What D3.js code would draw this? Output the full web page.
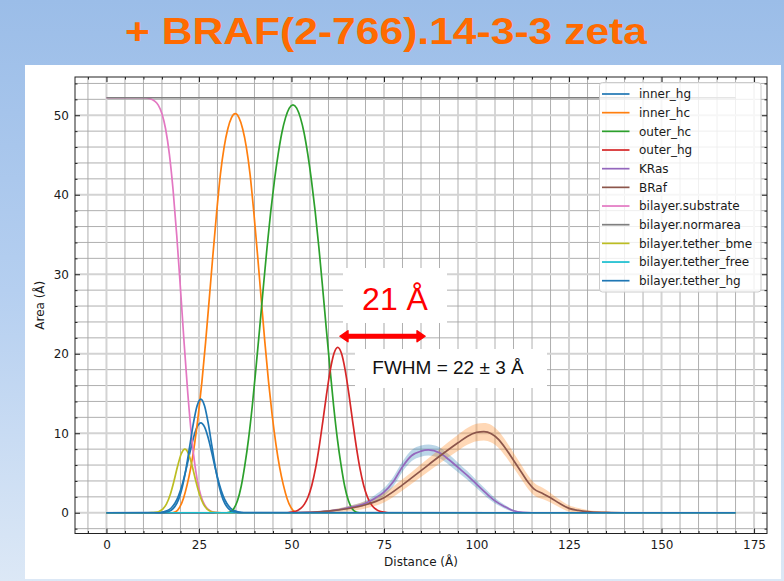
<!DOCTYPE html>
<html>
<head>
<meta charset="utf-8">
<script src="https://cdn.jsdelivr.net/npm/d3@7"></script>
<style>
  html, body { margin: 0; padding: 0; }
  body { width: 784px; height: 581px; overflow: hidden; }
  .axis text, .etiqueta, .leyenda text { font-family: "DejaVu Sans", sans-serif; fill: #1a1a1a; }
</style>
</head>
<body>
<div id="graf"></div>
<script>
// Datos (Distancia en Å, Área)
const innerHg = [[0,0],[14,0.02],[14.5,0.04],[15.5,0.11],[16.5,0.27],[17.5,0.6],[18.5,1.19],[19.5,2.16],[20.5,3.59],[21.5,5.42],[22.5,7.47],[23.5,9.4],[24.5,10.79],[25.5,11.3],[26.5,10.79],[27.5,9.4],[28.5,7.47],[29.5,5.42],[30.5,3.59],[31.5,2.16],[32.5,1.19],[33.5,0.6],[34.5,0.27],[35.5,0.11],[36.5,0.04],[37.5,0.01],[170,0]]
const innerHc = [[0,0],[17.8,0],[18.8,0.15],[19.8,0.7],[20.8,1.8],[21.8,3.5],[22.8,5.7],[23.8,8.6],[24.8,12.2],[25.8,16.5],[26.8,21.5],[27.8,27],[28.8,32.6],[29.8,37.9],[30.8,42.6],[31.8,46],[32.8,48.3],[33.8,49.7],[34.8,50.2],[35.8,49.7],[36.8,48.3],[37.8,46],[38.8,42.6],[39.8,37.9],[40.8,32.6],[41.8,27],[42.8,21.5],[43.8,16.5],[44.8,12.2],[45.8,8.6],[46.8,5.7],[47.8,3.5],[48.8,1.8],[49.8,0.7],[50.8,0.15],[51.8,0],[170,0]]
const outerHc = [[0,0],[32.4,0],[33.4,0.1],[34.4,0.5],[35.4,1.5],[36.4,3.3],[37.4,6],[38.4,9.3],[39.4,13.4],[40.4,18.2],[41.4,23.2],[42.4,28.4],[43.4,33.4],[44.4,37.9],[45.4,41.8],[46.4,45.1],[47.4,47.8],[48.4,49.7],[49.4,50.9],[50.4,51.3],[51.4,50.9],[52.4,49.7],[53.4,47.8],[54.4,45.1],[55.4,41.8],[56.4,37.9],[57.4,33.4],[58.4,28.4],[59.4,23.2],[60.4,18.2],[61.4,13.4],[62.4,9.3],[63.4,6],[64.4,3.3],[65.4,1.5],[66.4,0.5],[67.4,0.1],[68.4,0],[170,0]]
const outerHg = [[0,0],[48.5,0],[49.5,0.04],[50.5,0.11],[51.5,0.25],[52.5,0.54],[53.5,1.08],[54.5,2.01],[55.5,3.47],[56.5,5.58],[57.5,8.35],[58.5,11.6],[59.5,14.97],[60.5,17.97],[61.5,20.05],[62.5,20.8],[63.5,20.05],[64.5,17.97],[65.5,14.97],[66.5,11.6],[67.5,8.35],[68.5,5.58],[69.5,3.47],[70.5,2.01],[71.5,1.08],[72.5,0.54],[73.5,0.25],[74.5,0.11],[75.5,0.04],[76.5,0],[170,0]]
const krasX = [0, 50, 55, 60, 65, 70, 72.5, 75, 77.5, 80, 82.5, 85, 87, 90, 92.5, 95, 97.5, 100, 102.5, 105, 107.5, 110, 112.5, 115, 170]
const krasY = [0, 0, 0.05, 0.2, 0.6, 1.2, 1.8, 2.6, 3.9, 5.8, 7.2, 7.75, 7.9, 7.55, 6.7, 5.7, 4.7, 3.6, 2.5, 1.5, 0.8, 0.25, 0.05, 0, 0]
const krasErr = [0, 0, 0.05, 0.1, 0.2, 0.3, 0.4, 0.5, 0.6, 0.65, 0.7, 0.7, 0.7, 0.7, 0.65, 0.6, 0.55, 0.5, 0.45, 0.35, 0.25, 0.12, 0.05, 0, 0]
const brafX = [0, 50, 55, 60, 65, 70, 75, 80, 85, 90, 95, 97.5, 100, 102, 104, 106, 108, 110, 112, 114, 115.5, 118, 120, 122.5, 125, 127.5, 130, 135, 140, 170]
const brafY = [0, 0, 0.05, 0.2, 0.5, 1.0, 1.9, 3.5, 5.3, 7.1, 8.8, 9.6, 10.1, 10.2, 9.95, 9.2, 8.0, 6.6, 5.2, 3.8, 3.0, 2.4, 1.9, 1.15, 0.55, 0.3, 0.15, 0.05, 0, 0]
const brafErr = [0, 0, 0.05, 0.15, 0.3, 0.45, 0.6, 0.7, 0.8, 0.9, 1.0, 1.05, 1.1, 1.1, 1.1, 1.05, 1.0, 0.95, 0.9, 0.85, 0.8, 0.7, 0.6, 0.5, 0.4, 0.3, 0.2, 0.1, 0, 0]
const substrate = [[0,52.2],[10,52.2],[12,52.05],[14,51.27],[15,50.19],[16,48.24],[17,45.12],[18,40.63],[19,34.85],[20,28.18],[21,21.29],[22,14.9],[23,9.61],[24,5.68],[25,3.06],[26,1.5],[27,0.67],[28,0.27],[29,0.09],[30,0.03],[31,0],[170,0]]
const normarea = [[0,52.2],[170,52.2]]
const tetherBme = [[0,0],[11.2,0],[12.2,0.01],[13.2,0.05],[14.2,0.16],[15.2,0.45],[16.2,1.08],[17.2,2.22],[18.2,3.89],[19.2,5.81],[20.2,7.39],[21.2,8],[22.2,7.39],[23.2,5.81],[24.2,3.89],[25.2,2.22],[26.2,1.08],[27.2,0.45],[28.2,0.16],[29.2,0.05],[30.2,0.01],[31.2,0],[170,0]]
const tetherFree = [[0,0],[170,0]]
const tetherHg = [[0,0],[14.5,0],[15.5,0.04],[16.5,0.12],[17.5,0.32],[18.5,0.78],[19.5,1.68],[20.5,3.24],[21.5,5.52],[22.5,8.37],[23.5,11.27],[24.5,13.47],[25.5,14.3],[26.5,13.47],[27.5,11.27],[28.5,8.37],[29.5,5.52],[30.5,3.24],[31.5,1.68],[32.5,0.78],[33.5,0.32],[34.5,0.12],[35.5,0.04],[36.5,0],[170,0]]

const nombres = ["inner_hg", "inner_hc", "outer_hc", "outer_hg", "KRas", "BRaf", "bilayer.substrate", "bilayer.normarea", "bilayer.tether_bme", "bilayer.tether_free", "bilayer.tether_hg"]
const colores = ["#1f77b4", "#ff7f0e", "#2ca02c", "#d62728", "#9467bd", "#8c564b", "#e377c2", "#7f7f7f", "#bcbd22", "#17becf", "#1f77b4"]

const xTicks = [0, 25, 50, 75, 100, 125, 150, 175]
const yTicks = [0, 10, 20, 30, 40, 50]

// Dimensiones
const anchoTotal = 784
const altoTotal = 581
const ejes = { left: 75, right: 767, top: 77, bottom: 533.5 }

const svg = d3.select("#graf")
  .append("svg")
  .attr("width", anchoTotal)
  .attr("height", altoTotal)

// Fondo
const grad = svg.append("defs").append("linearGradient")
  .attr("id", "fondo").attr("x1", 0).attr("y1", 0).attr("x2", 0).attr("y2", 1)
grad.append("stop").attr("offset", "0%").attr("stop-color", "#9bbde8")
grad.append("stop").attr("offset", "50%").attr("stop-color", "#b5cff0")
grad.append("stop").attr("offset", "100%").attr("stop-color", "#dce8f6")
svg.append("rect").attr("width", anchoTotal).attr("height", altoTotal).attr("fill", "url(#fondo)")

svg.append("text")
  .attr("x", 386).attr("y", 43.5)
  .attr("text-anchor", "middle")
  .attr("textLength", 522).attr("lengthAdjust", "spacingAndGlyphs")
  .style("font-family", "'Liberation Sans', Arial, sans-serif")
  .style("font-weight", "bold").style("font-size", "37px")
  .attr("fill", "#ff6a00")
  .text("+ BRAF(2-766).14-3-3 zeta")

svg.append("rect").attr("x", 25).attr("y", 65).attr("width", 756).attr("height", 514).attr("fill", "white")

// Escaladores
const x = d3.scaleLinear().domain([-8.5, 178.5]).range([ejes.left, ejes.right])
const y = d3.scaleLinear().domain([-2.61, 54.81]).range([ejes.bottom, ejes.top])

const xMinor = d3.range(-5, 179, 5).filter((d) => d % 25 !== 0)
const yMinor = d3.range(-2, 55, 2).filter((d) => d % 10 !== 0)

const g = svg.append("g")

// Rejilla
g.selectAll(".gxm").data(xMinor).join("line")
  .attr("x1", (d) => x(d)).attr("x2", (d) => x(d))
  .attr("y1", ejes.top).attr("y2", ejes.bottom)
  .attr("stroke", "#a6a6a6").attr("stroke-width", 0.9)
g.selectAll(".gym").data(yMinor).join("line")
  .attr("y1", (d) => y(d)).attr("y2", (d) => y(d))
  .attr("x1", ejes.left).attr("x2", ejes.right)
  .attr("stroke", "#a6a6a6").attr("stroke-width", 0.9)
g.selectAll(".gxM").data(xTicks).join("line")
  .attr("x1", (d) => x(d)).attr("x2", (d) => x(d))
  .attr("y1", ejes.top).attr("y2", ejes.bottom)
  .attr("stroke", "#d3d3d3").attr("stroke-width", 2)
g.selectAll(".gyM").data(yTicks).join("line")
  .attr("y1", (d) => y(d)).attr("y2", (d) => y(d))
  .attr("x1", ejes.left).attr("x2", ejes.right)
  .attr("stroke", "#d3d3d3").attr("stroke-width", 2)

// Bandas
const banda = d3.area()
  .x((d) => x(d[0]))
  .y0((d) => y(d[1] - d[2]))
  .y1((d) => y(d[1] + d[2]))
  .curve(d3.curveMonotoneX)
g.append("path").datum(d3.zip(krasX, krasY, krasErr)).attr("d", banda)
  .attr("fill", "#1f77b4").attr("fill-opacity", 0.3)
g.append("path").datum(d3.zip(brafX, brafY, brafErr)).attr("d", banda)
  .attr("fill", "#ff7f0e").attr("fill-opacity", 0.3)

// Curvas
const series = [innerHg, innerHc, outerHc, outerHg, d3.zip(krasX, krasY), d3.zip(brafX, brafY), substrate, normarea, tetherBme, tetherFree, tetherHg]
const linea = d3.line()
  .x((d) => x(d[0]))
  .y((d) => y(d[1]))
  .curve(d3.curveMonotoneX)
g.selectAll(".serie").data(series).join("path")
  .attr("d", linea)
  .attr("fill", "none")
  .attr("stroke", (d, i) => colores[i])
  .attr("stroke-width", 1.7)

// Ejes
const ejeX = (axis, ticks, size) => axis(x).tickValues(ticks).tickSizeInner(size).tickSizeOuter(0)
const ejeY = (axis, ticks, size) => axis(y).tickValues(ticks).tickSizeInner(size).tickSizeOuter(0)
const ponerEje = (axis, tr) => {
  const a = g.append("g").attr("class", "axis").attr("transform", tr).call(axis)
  a.select(".domain").remove()
  a.selectAll("line").attr("stroke", "#222")
  a.selectAll("text").style("font-size", "12px")
  return a
}
ponerEje(ejeX(d3.axisBottom, xTicks, -5).tickPadding(7), `translate(0,${ejes.bottom})`)
ponerEje(ejeX(d3.axisBottom, xMinor, -2.5).tickFormat(""), `translate(0,${ejes.bottom})`)
ponerEje(ejeX(d3.axisTop, xTicks, -5).tickFormat(""), `translate(0,${ejes.top})`)
ponerEje(ejeX(d3.axisTop, xMinor, -2.5).tickFormat(""), `translate(0,${ejes.top})`)
ponerEje(ejeY(d3.axisLeft, yTicks, -5).tickPadding(6), `translate(${ejes.left},0)`)
ponerEje(ejeY(d3.axisLeft, yMinor, -2.5).tickFormat(""), `translate(${ejes.left},0)`)
ponerEje(ejeY(d3.axisRight, yTicks, -5).tickFormat(""), `translate(${ejes.right},0)`)
ponerEje(ejeY(d3.axisRight, yMinor, -2.5).tickFormat(""), `translate(${ejes.right},0)`)

g.append("rect")
  .attr("x", ejes.left).attr("y", ejes.top)
  .attr("width", ejes.right - ejes.left).attr("height", ejes.bottom - ejes.top)
  .attr("fill", "none").attr("stroke", "#222").attr("stroke-width", 1)

svg.append("text").attr("class", "etiqueta")
  .attr("x", (ejes.left + ejes.right) / 2).attr("y", 565.5)
  .attr("text-anchor", "middle").style("font-size", "12px")
  .text("Distance (Å)")
svg.append("text").attr("class", "etiqueta")
  .attr("transform", `translate(44, ${(ejes.top + ejes.bottom) / 2}) rotate(-90)`)
  .attr("text-anchor", "middle").style("font-size", "12px")
  .text("Area (Å)")

// Leyenda
const ley = svg.append("g").attr("class", "leyenda")
ley.append("rect")
  .attr("x", 599.5).attr("y", 82.5).attr("width", 161.5).attr("height", 209.5).attr("rx", 3)
  .attr("fill", "white").attr("fill-opacity", 0.8).attr("stroke", "#cccccc")
const filas = ley.selectAll(".fila").data(nombres).join("g")
  .attr("transform", (d, i) => `translate(0, ${94 + i * 18.67})`)
filas.append("line")
  .attr("x1", 602).attr("x2", 629.5)
  .attr("stroke", (d, i) => colores[i]).attr("stroke-width", 1.7)
filas.append("text")
  .attr("x", 639).attr("dy", "0.36em")
  .style("font-size", "12px")
  .text((d) => d)

// Anotaciones
const fuente = "'Liberation Sans', Arial, sans-serif"
svg.append("rect").attr("x", 343).attr("y", 268).attr("width", 104).attr("height", 55).attr("fill", "white")
svg.append("text")
  .attr("x", 395).attr("y", 310).attr("text-anchor", "middle")
  .style("font-family", fuente).style("font-size", "32px")
  .attr("fill", "#ff0000").text("21 Å")

const flechaDe = 63.1, flechaA = 86.1, flechaY = 22.2
const fx1 = x(flechaDe), fx2 = x(flechaA), fy = y(flechaY)
svg.append("line")
  .attr("x1", fx1 + 6).attr("x2", fx2 - 6).attr("y1", fy).attr("y2", fy)
  .attr("stroke", "#ff0000").attr("stroke-width", 5)
svg.append("path")
  .attr("d", `M${fx1},${fy} L${fx1 + 8},${fy - 5.5} L${fx1 + 8},${fy + 5.5} Z M${fx2},${fy} L${fx2 - 8},${fy - 5.5} L${fx2 - 8},${fy + 5.5} Z`)
  .attr("fill", "#ff0000").attr("stroke", "#ff0000").attr("stroke-linejoin", "round").attr("stroke-width", 1.5)

svg.append("rect").attr("x", 355).attr("y", 349).attr("width", 192).attr("height", 39).attr("fill", "white")
svg.append("text")
  .attr("x", 448).attr("y", 374).attr("text-anchor", "middle")
  .style("font-family", fuente).style("font-size", "19px")
  .attr("fill", "#111").text("FWHM = 22 ± 3 Å")
</script>
</body>
</html>
